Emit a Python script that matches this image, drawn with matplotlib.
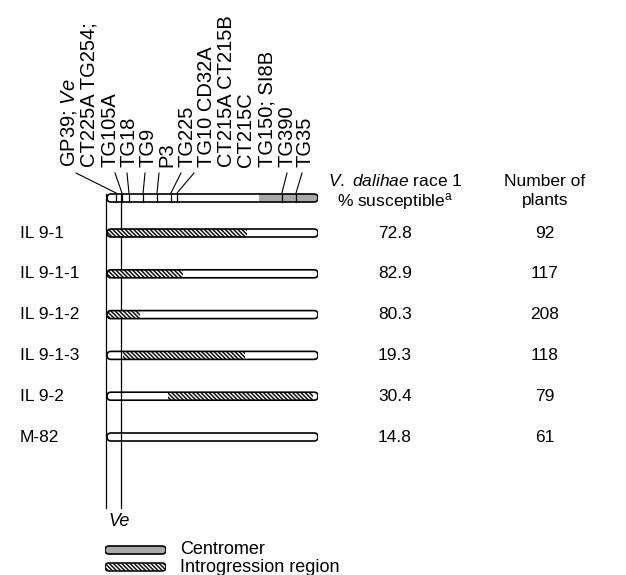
import matplotlib
matplotlib.use("Agg")
import matplotlib.pyplot as plt
from matplotlib.patches import FancyBboxPatch, Rectangle
from matplotlib.lines import Line2D

plt.rcParams['font.family'] = ['Liberation Sans', 'DejaVu Sans']
plt.rcParams['mathtext.fontset'] = 'custom'
plt.rcParams['mathtext.rm'] = 'Liberation Sans'
plt.rcParams['mathtext.it'] = 'Liberation Sans:italic'
plt.rcParams['mathtext.bf'] = 'Liberation Sans:bold'
plt.rcParams['hatch.linewidth'] = 1.1
plt.rcParams['hatch.color'] = '#111111'

# ---------------- data ----------------
lines_names = ["IL 9-1", "IL 9-1-1", "IL 9-1-2", "IL 9-1-3", "IL 9-2", "M-82"]
intro_start = [0.0, 0.0, 0.0, 7.6, 29.0, None]      # % of chromosome length
intro_end   = [66.4, 36.0, 15.6, 65.4, 97.6, None]
pct_susceptible = ["72.8", "82.9", "80.3", "19.3", "30.4", "14.8"]
n_plants = ["92", "117", "208", "118", "79", "61"]

marker_labels = [r"GP39; $\mathit{Ve}$", "CT225A TG254;", "TG105A", "TG18", "TG9",
                 "P3", "TG225", "TG10 CD32A", "CT215A CT215B", "CT215C",
                 "TG150; SI8B", "TG390", "TG35"]
# marker tick positions (% of chromosome) and which label each belongs to
tick_pos = [4.3, 7.1, 10.4, 17.1, 23.7, 30.3, 33.2, 82.9, 89.6]
tick_label_idx = [0, 2, 3, 4, 5, 6, 7, 11, 12]
centromere = (72.0, 100.0)
ve_pos = 6.6

HATCH = '\\' * 8

# ---------------- layout ----------------
W, H = 626, 575
fig = plt.figure(figsize=(W / 100, H / 100), dpi=100)
bg = fig.add_axes([0, 0, 1, 1])
bg.set_xlim(0, W)
bg.set_ylim(H, 0)
bg.axis('off')

BX0, BX1 = 107, 318
ch = fig.add_axes([BX0 / W, 0, (BX1 - BX0) / W, 1])
ch.set_xlim(0, 100)
ch.set_ylim(H, 0)
ch.axis('off')
pxu = (BX1 - BX0) / 100.0   # pixels per chromosome unit

def px2c(x):
    return (x - BX0) / pxu

BAR_H = 8
rad = 4.0

def bar(yc, fill='white'):
    p = FancyBboxPatch((0, yc - BAR_H / 2), 100, BAR_H,
                       boxstyle=f"round,pad=0,rounding_size={rad / pxu}",
                       mutation_aspect=pxu, facecolor=fill, edgecolor='none',
                       lw=0, zorder=2)
    ch.add_patch(p)
    return p

def bar_edge(yc):
    p = FancyBboxPatch((0, yc - BAR_H / 2), 100, BAR_H,
                       boxstyle=f"round,pad=0,rounding_size={rad / pxu}",
                       mutation_aspect=pxu, facecolor='none', edgecolor='black',
                       lw=1.2, zorder=5)
    ch.add_patch(p)

# top reference chromosome
TOP_Y = 198
tp = bar(TOP_Y)
cr = Rectangle((centromere[0], TOP_Y - BAR_H / 2), centromere[1] - centromere[0], BAR_H,
               facecolor='#a9a9a9', edgecolor='none', zorder=3)
ch.add_patch(cr)
cr.set_clip_path(tp)
for t in tick_pos:
    ch.add_line(Line2D([t, t], [TOP_Y - BAR_H / 2, TOP_Y + BAR_H / 2], color='black',
                       lw=0.9, zorder=6))
bar_edge(TOP_Y)

# marker labels
col_x = [69, 89, 110, 129, 148, 167, 187, 206, 226, 246, 267, 287, 305]
conn_top_x = [76, None, 115, 127, 145, 159, 181, 194, None, None, None, 287, 302]
LAB_BOTTOM = 167
for i, lab in enumerate(marker_labels):
    bg.text(col_x[i], LAB_BOTTOM, lab, rotation=90, ha='center', va='bottom',
            fontsize=14.5)
for t, li in zip(tick_pos, tick_label_idx):
    ch.add_line(Line2D([px2c(conn_top_x[li]), t], [173, TOP_Y - BAR_H / 2 - 1],
                       color='black', lw=0.8, clip_on=False))

# IL rows
ROW_Y0, ROW_STEP = 233, 40.8
for i, name in enumerate(lines_names):
    yc = ROW_Y0 + i * ROW_STEP
    bg.text(20, yc, name, ha='left', va='center', fontsize=12.5)
    p = bar(yc)
    if intro_start[i] is not None:
        r = Rectangle((intro_start[i], yc - BAR_H / 2), intro_end[i] - intro_start[i], BAR_H,
                      facecolor='white', edgecolor='#111111', hatch=HATCH, lw=0, zorder=3)
        ch.add_patch(r)
        r.set_clip_path(p)
    bar_edge(yc)
    bg.text(395, yc, pct_susceptible[i], ha='center', va='center', fontsize=12.5)
    bg.text(545, yc, n_plants[i], ha='center', va='center', fontsize=12.5)

# column headers
bg.text(395, 181, r"$\mathit{V.\ dalihae}$ race 1", ha='center', va='center', fontsize=12.5)
bg.text(395, 201, r"% susceptible$^{\mathrm{a}}$", ha='center', va='center', fontsize=12.5)
bg.text(545, 181, "Number of", ha='center', va='center', fontsize=12.5)
bg.text(545, 201, "plants", ha='center', va='center', fontsize=12.5)

# vertical guide lines
ch.add_line(Line2D([-0.5, -0.5], [TOP_Y - BAR_H / 2, 508], color='black', lw=0.9, clip_on=False))
ch.add_line(Line2D([ve_pos, ve_pos], [TOP_Y - BAR_H / 2, 508], color='black', lw=0.9, clip_on=False))
bg.text(108, 521, "Ve", style='italic', ha='left', va='center', fontsize=13)

# legend
lg = fig.add_axes([105 / W, 0, 61 / W, 1])
lg.set_xlim(0, 100)
lg.set_ylim(H, 0)
lg.axis('off')
lpx = 61 / 100.0
for yc, kind, text in [(550, 'c', "Centromer"), (567, 'h', "Introgression region")]:
    if kind == 'c':
        p = FancyBboxPatch((0, yc - BAR_H / 2), 100, BAR_H,
                           boxstyle=f"round,pad=0,rounding_size={rad / lpx}",
                           mutation_aspect=lpx, facecolor='#a9a9a9', edgecolor='black',
                           lw=1.2, zorder=3)
        lg.add_patch(p)
    else:
        p = FancyBboxPatch((0, yc - BAR_H / 2), 100, BAR_H,
                           boxstyle=f"round,pad=0,rounding_size={rad / lpx}",
                           mutation_aspect=lpx, facecolor='white', edgecolor='#111111',
                           hatch=HATCH, lw=1.2, zorder=3)
        lg.add_patch(p)
    bg.text(180, yc, text, ha='left', va='center', fontsize=13)

fig.savefig("out.png", dpi=100)
